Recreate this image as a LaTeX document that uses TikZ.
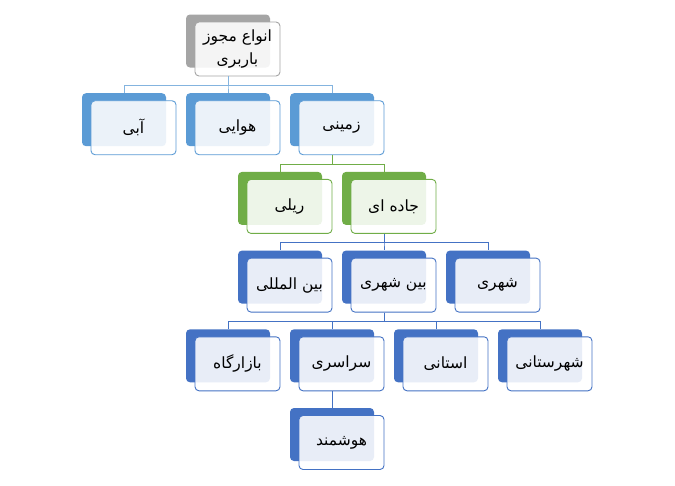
\documentclass[tikz,border=0pt]{standalone}
\usepackage{fontspec}
\usepackage{xcolor}
\TeXXeTstate=1
\newfontfamily\farsi[Script=Arabic]{DejaVu Sans}
\definecolor{grayc}{HTML}{A5A5A5}
\definecolor{blueA}{HTML}{5B9BD5}
\definecolor{greenc}{HTML}{70AD47}
\definecolor{blueB}{HTML}{4472C4}

\tikzset{
  back/.style={draw=none, fill=#1, rounded corners=4pt,
    minimum width=84pt, minimum height=53pt, inner sep=0pt},
  card/.style={draw=#1, line width=0.9pt, fill=white, fill opacity=0.88,
    text opacity=1, rounded corners=4pt, minimum width=85pt,
    minimum height=54pt, inner sep=0pt, align=center,
    font=\farsi\fontsize{15.5}{23}\selectfont},
  link/.style={draw=#1, line width=0.8pt},
}

% name, x, y, colour, text
\newcommand\card[5]{%
  \node[back=#4] (#1-b) at (#2,#3) {};
  \node[card=#4] (#1) at (#2+9.5,#3+8) {#5};
}

\begin{document}
\begin{tikzpicture}[x=1pt,y=-1pt]
\def\dx{104}
\def\dy{78.7}
\def\bus{9}
\fill[white] (0,0) rectangle (675,485);
\useasboundingbox (0,0) rectangle (675,485);

  \card{root}{228}{41}{grayc}{\beginR انواع مجوز\endR\\\beginR باربری\endR}

  \card{abi}{124}{41+\dy}{blueA}{\beginR آبی\endR}
  \card{havai}{228}{41+\dy}{blueA}{\beginR هوایی\endR}
  \card{zamini}{332}{41+\dy}{blueA}{\beginR زمینی\endR}

  \card{reyli}{280}{41+2*\dy}{greenc}{\beginR ریلی\endR}
  \card{jadde}{384}{41+2*\dy}{greenc}{\beginR جاده ای\endR}

  \card{beynolmelali}{280}{41+3*\dy}{blueB}{\beginR بین المللی\endR}
  \card{beynshahri}{384}{41+3*\dy}{blueB}{\beginR بین شهری\endR}
  \card{shahri}{488}{41+3*\dy}{blueB}{\beginR شهری\endR}

  \card{bazargah}{228}{41+4*\dy}{blueB}{\beginR بازارگاه\endR}
  \card{sarasari}{332}{41+4*\dy}{blueB}{\beginR سراسری\endR}
  \card{ostani}{436}{41+4*\dy}{blueB}{\beginR استانی\endR}
  \card{shahrestani}{540}{41+4*\dy}{blueB}{\beginR شهرستانی\endR}

  \card{hooshmand}{332}{41+5*\dy}{blueB}{\beginR هوشمند\endR}

  % connectors
  \foreach \c in {abi,havai,zamini}
    \draw[link=blueA!75] (root-b |- root.south) -- ++(0,\bus) -| (\c-b.north);
  \foreach \c in {reyli,jadde}
    \draw[link=greenc] (zamini-b |- zamini.south) -- ++(0,\bus) -| (\c-b.north);
  \foreach \c in {beynolmelali,beynshahri,shahri}
    \draw[link=blueB] (jadde-b |- jadde.south) -- ++(0,\bus) -| (\c-b.north);
  \foreach \c in {bazargah,sarasari,ostani,shahrestani}
    \draw[link=blueB] (beynshahri-b |- beynshahri.south) -- ++(0,\bus) -| (\c-b.north);
  \draw[link=blueB] (sarasari-b |- sarasari.south) -- (hooshmand-b.north);
\end{tikzpicture}
\end{document}
